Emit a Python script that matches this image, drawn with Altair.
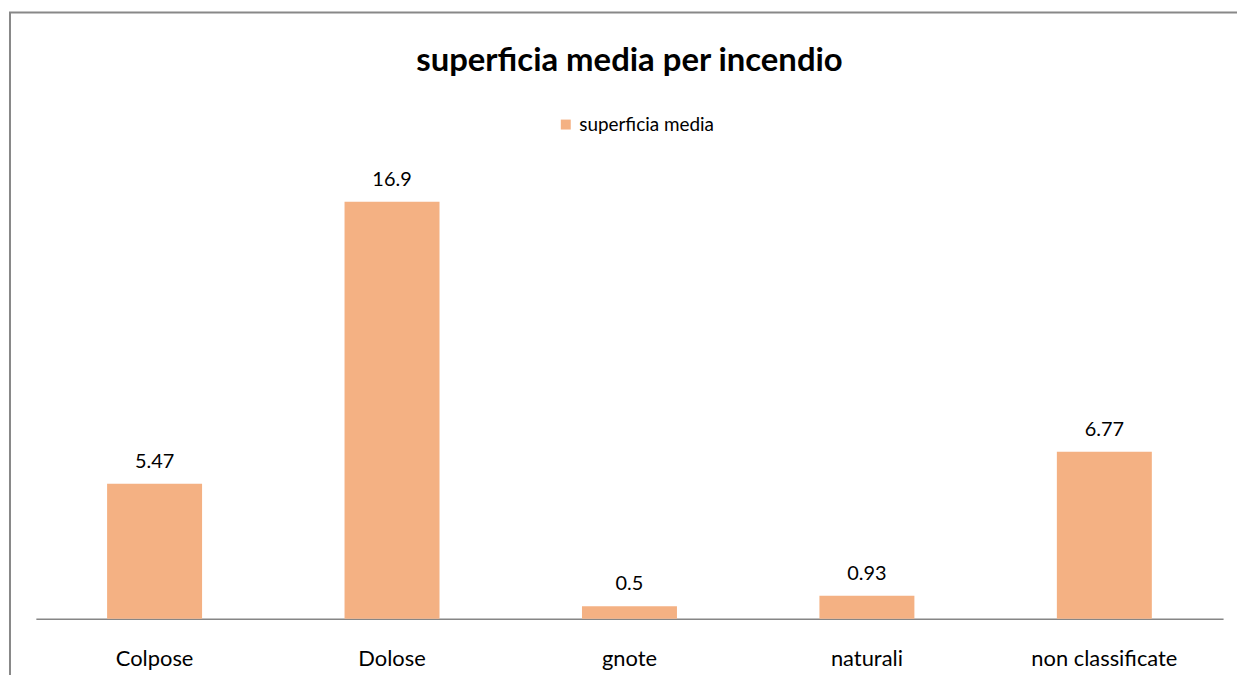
import altair as alt
import pandas as pd

categories = ["Colpose", "Dolose", "gnote", "naturali", "non classificate"]
values = [5.47, 16.9, 0.5, 0.93, 6.77]
labels = ["5.47", "16.9", "0.5", "0.93", "6.77"]
series_name = "superficia media"

df = pd.DataFrame({"cat": categories, "val": values, "lab": labels, "serie": [series_name] * 5})

FONT = "Lato"
W, H = 1193, 471

xenc = alt.X("cat:N", sort=categories,
             scale=alt.Scale(paddingInner=0.6, paddingOuter=0.3),
             axis=alt.Axis(title=None, labelAngle=0, labelFontSize=22, labelFont=FONT,
                           labelColor="#000000", labelPadding=30, ticks=False,
                           domainColor="#868686", domainWidth=1.5))
yenc = alt.Y("val:Q", scale=alt.Scale(domain=[0, 19], nice=False), axis=None)

bars = alt.Chart(df).mark_bar(color="#F4B183").encode(
    x=xenc, y=yenc,
    color=alt.Color("serie:N", scale=alt.Scale(range=["#F4B183"]),
                    legend=alt.Legend(title=None, orient="none", legendX=523, legendY=-35,
                                      symbolType="square", symbolSize=100,
                                      labelFontSize=19, labelFont=FONT, labelColor="#000000",
                                      padding=0, symbolStrokeWidth=0)),
)

text = alt.Chart(df).mark_text(dy=-22, fontSize=20, font=FONT, color="#000000").encode(
    x=xenc, y=yenc, text="lab:N"
)

border = alt.Chart(df.head(1)).mark_rect(fill=None, stroke="#888888", strokeWidth=2).encode(
    x=alt.value(-26), x2=alt.value(W + 60), y=alt.value(-138), y2=alt.value(H + 120)
)

chart = alt.layer(border, bars, text).properties(
    width=W, height=H,
    autosize=alt.AutoSizeParams(type="none"),
    padding={"left": 28, "top": 141, "right": 14, "bottom": 55},
    title=alt.Title("superficia media per incendio", fontSize=33, font=FONT, fontWeight="bold",
                    color="#000000", anchor="middle", frame="group", offset=-67),
).configure(background="white").configure_view(strokeWidth=0, stroke="transparent")

chart.save("out.html", embed_options={"renderer": "svg", "actions": False})
